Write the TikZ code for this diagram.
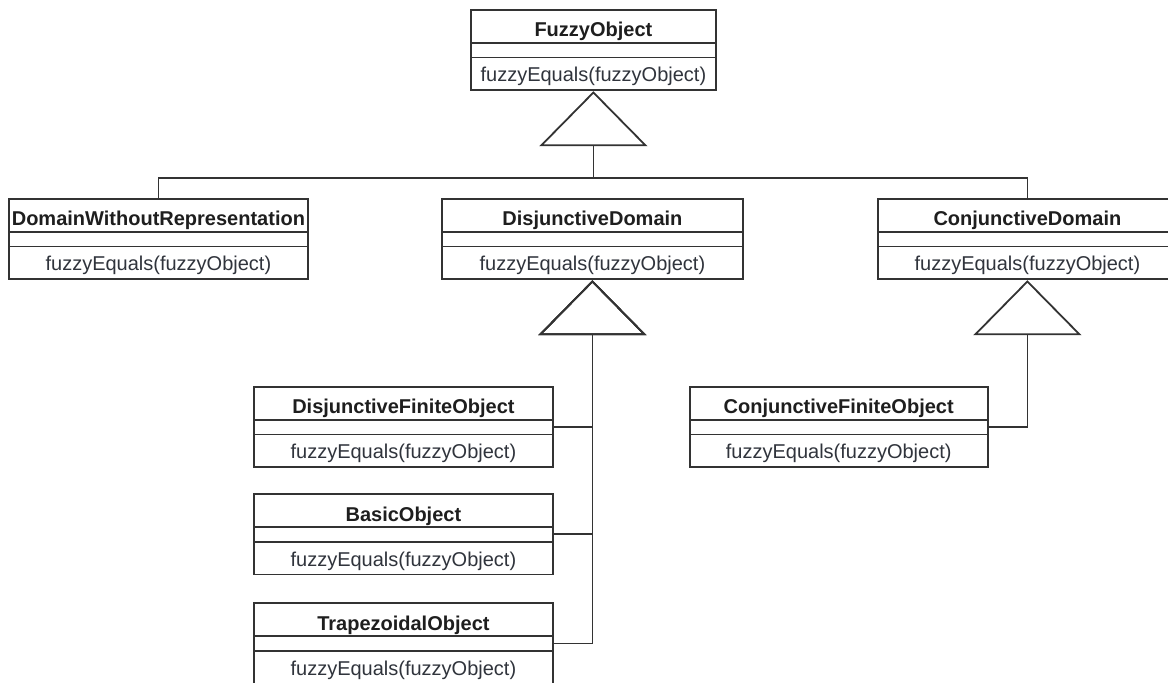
\documentclass[tikz,border=0pt]{standalone}
\usepackage{fontspec}
\setmainfont{Liberation Sans}
\usetikzlibrary{arrows.meta,positioning,shapes.multipart}
\definecolor{clsline}{HTML}{333333}
\definecolor{clsname}{HTML}{1E1E1E}
\definecolor{clsop}{HTML}{30343C}
\newcommand{\clsparts}[1]{\rule[-2.5pt]{0pt}{15.5pt}\textcolor{clsname}{\textbf{#1}}%
  \nodepart{two}\rule{0pt}{6.5pt}%
  \nodepart{three}\rule[-3.8pt]{0pt}{15.5pt}\textcolor{clsop}{fuzzyEquals(fuzzyObject)}}
\tikzset{
  cls/.style={draw=clsline, line width=0.9pt, rectangle split, rectangle split parts=3, inner xsep=0pt, inner ysep=0pt, text width=#1, align=center, anchor=north west, font=\fontsize{10}{12}\selectfont, fill=white},
  gen/.style={-{Triangle[open, length=27.5pt, width=54pt]}, draw=clsline, line width=0.9pt},
  bus/.style={draw=clsline, line width=0.9pt},
}

\begin{document}
\begin{tikzpicture}[x=0.5pt, y=-0.5pt, node distance=12.5pt]
\useasboundingbox (0,0) rectangle (1168,682);
\node[cls=122.5pt] (fo) at (470,9) {\clsparts{FuzzyObject}};
\node[cls=149.5pt] (dwr) at (8,198) {\clsparts{DomainWithoutRepresentation}};
\node[cls=150.5pt] (dd) at (441,198) {\clsparts{DisjunctiveDomain}};
\node[cls=149.5pt] (cd) at (877,198) {\clsparts{ConjunctiveDomain}};
\node[cls=149.5pt] (dfo) at (253,386) {\clsparts{DisjunctiveFiniteObject}};
\node[cls=149.5pt, below=of dfo] (bo) {\clsparts{BasicObject}};
\node[cls=149.5pt, below=13.5pt of bo] (to) {\clsparts{TrapezoidalObject}};
\node[cls=149pt, right=67.5pt of dfo] (cfo) {\clsparts{ConjunctiveFiniteObject}};
\coordinate (fo-j) at (fo.south |- 0,178);
\draw[bus] (dwr.north) |- (fo-j) -| (cd.north);
\draw[gen] (fo-j) -- (fo.south);
\foreach \n in {dfo,bo,to} \draw[gen] (\n.east) -| (dd.south);
\draw[gen] (cfo.east) -| (cd.south);
\end{tikzpicture}
\end{document}
